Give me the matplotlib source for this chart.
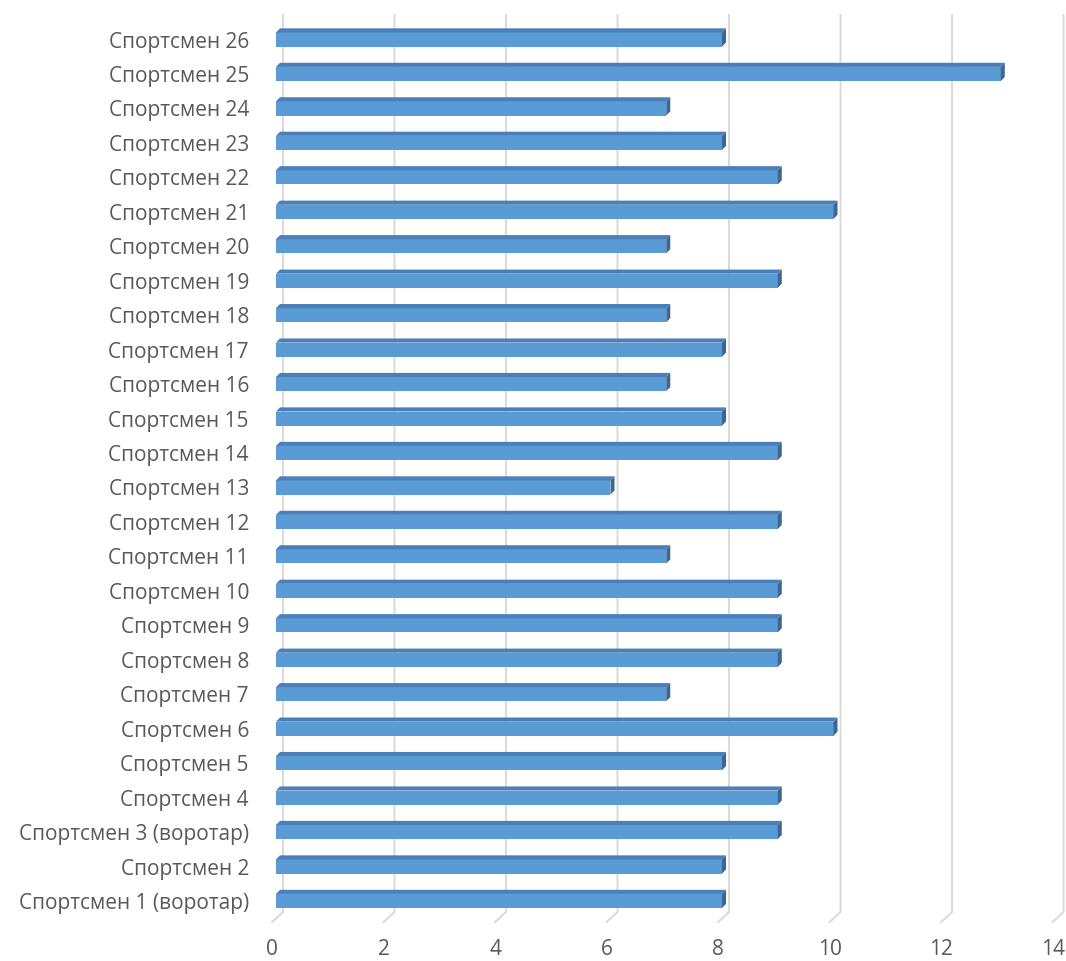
# Horizontal 3D-style bar chart: score per athlete
import numpy as np
import matplotlib.pyplot as plt
from matplotlib.patches import Polygon

# Data (bottom to top)
athletes = ['Спортсмен 1 (воротар)', 'Спортсмен 2', 'Спортсмен 3 (воротар)',
            'Спортсмен 4', 'Спортсмен 5', 'Спортсмен 6', 'Спортсмен 7',
            'Спортсмен 8', 'Спортсмен 9', 'Спортсмен 10', 'Спортсмен 11',
            'Спортсмен 12', 'Спортсмен 13', 'Спортсмен 14', 'Спортсмен 15',
            'Спортсмен 16', 'Спортсмен 17', 'Спортсмен 18', 'Спортсмен 19',
            'Спортсмен 20', 'Спортсмен 21', 'Спортсмен 22', 'Спортсмен 23',
            'Спортсмен 24', 'Спортсмен 25', 'Спортсмен 26']
scores = [8, 8, 9, 9, 8, 10, 7, 9, 9, 9, 7, 9, 6, 9, 8, 7, 8, 7, 9, 7, 10, 9, 8, 7, 13, 8]
x_ticks = [0, 2, 4, 6, 8, 10, 12, 14]

# Colours
front_col = '#5B9BD5'
top_col = '#4A80BA'
side_col = '#3C6794'
grid_col = '#D9D9D9'
text_col = '#595959'

plt.rcParams['font.family'] = ['Open Sans', 'DejaVu Sans']

fig = plt.figure(figsize=(10.66, 9.61), dpi=100)
ax = fig.add_axes([0.2589, 0.0445, 0.7322, 0.9323])
ax.set_xlim(0, 14)
ax.set_ylim(-0.5, 25.5)

# depth offsets (data units) for the pseudo-3D faces
bar_h = 0.41
dx, dy = 0.072, 0.12
back_dx = 0.126
front_dx = -0.07

# gridlines: back wall plus the slanted floor segment
for v in x_ticks:
    ax.plot([v + back_dx, v + back_dx, v + front_dx], [25.71, -0.32, -0.61],
            color=grid_col, lw=1.4, clip_on=False, zorder=1)
    ax.text(v + front_dx, -1.4, str(v), ha='center', va='center',
            fontsize=15, color=text_col, clip_on=False)

# bars: front face, top face, right side face
y = np.arange(len(scores))
for yi, v in zip(y, scores):
    y0, y1 = yi - bar_h / 2, yi + bar_h / 2
    ax.add_patch(Polygon([(0, y0), (v, y0), (v, y1), (0, y1)],
                         closed=True, fc=front_col, ec='none', zorder=3))
    ax.add_patch(Polygon([(0, y1), (v, y1), (v + dx, y1 + dy), (dx, y1 + dy)],
                         closed=True, fc=top_col, ec='none', zorder=3))
    ax.add_patch(Polygon([(v, y0), (v + dx, y0 + dy), (v + dx, y1 + dy), (v, y1)],
                         closed=True, fc=side_col, ec='none', zorder=3))

ax.set_yticks(y)
ax.set_yticklabels(athletes, fontsize=15, color=text_col)
ax.tick_params(axis='y', length=0, pad=19.5)
ax.set_xticks([])
for s in ax.spines.values():
    s.set_visible(False)

fig.savefig('out.png', dpi=100, facecolor='white')
